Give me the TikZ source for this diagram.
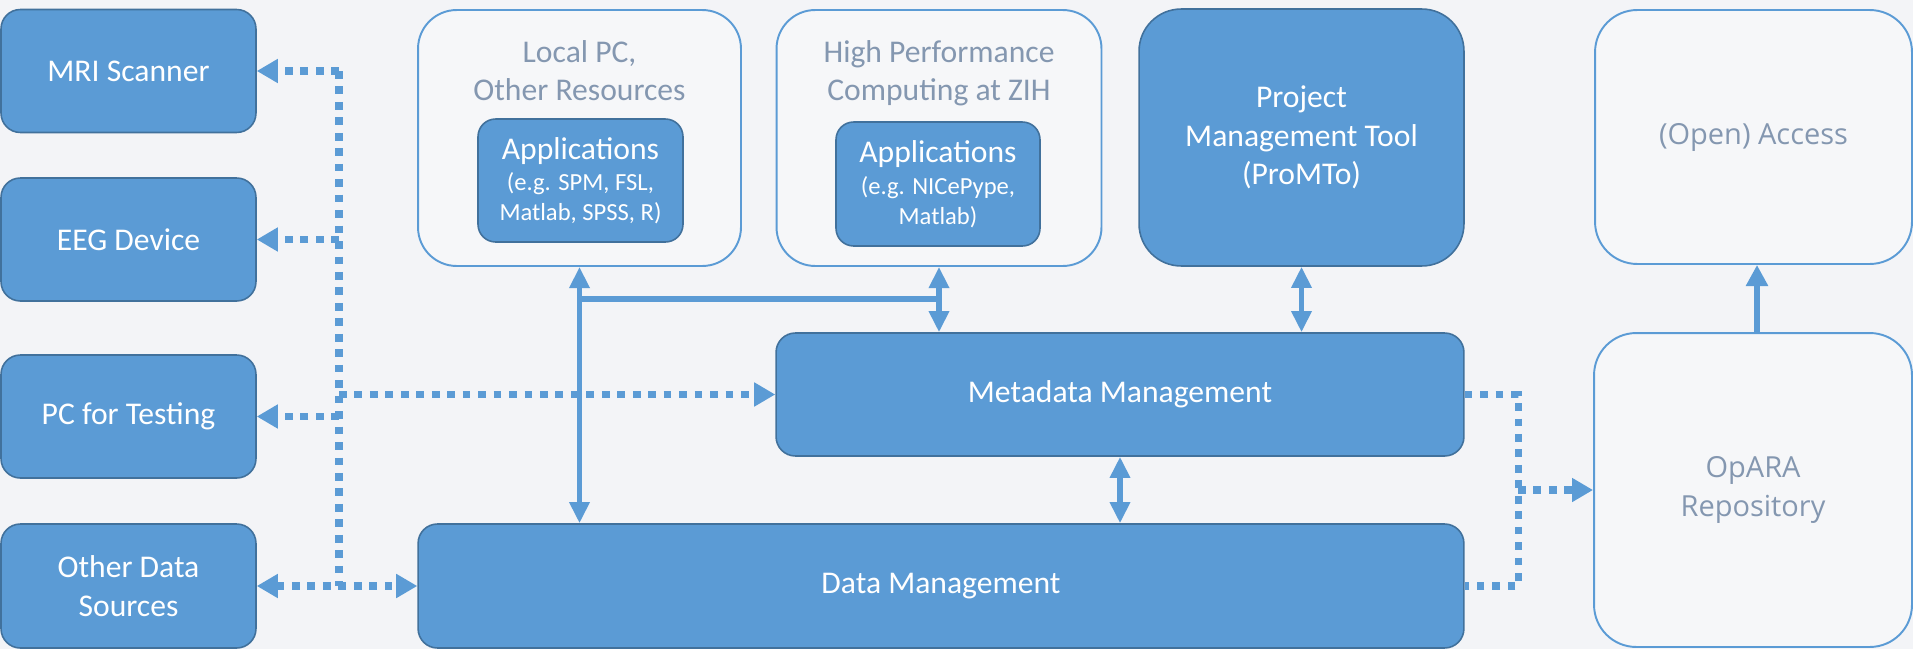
\documentclass[tikz,border=0pt]{standalone}
\usepackage{fontspec}
\setmainfont{Carlito}
\newfontfamily\repofont{Open Sans}
\usetikzlibrary{
    positioning,
    calc,
    arrows.meta
}
\definecolor{BlueFill}{HTML}{5B9BD5}
\definecolor{BlueEdge}{HTML}{41719C}
\definecolor{BlueLine}{HTML}{5B9BD5}
\definecolor{GrayText}{HTML}{8497B0}
\definecolor{Paper}{HTML}{F3F4F7}
\definecolor{BoxPaper}{HTML}{F6F7F9}
\newcommand{\appbig}{\fontsize{18}{22}\selectfont}

\begin{document}
\begin{tikzpicture}[
                x=0.02cm, y=-0.02cm,
                every node/.style={align=center},
                bluebox/.style={
                    fill=BlueFill, draw=BlueEdge, line width=0.9pt,
                    text=white, rounded corners=11pt,
                    font=\fontsize{18}{22}\selectfont
                },
                appbox/.style={
                    bluebox, rounded corners=10pt,
                    font=\fontsize{14}{17}\selectfont
                },
                framebox/.style={
                    fill=BoxPaper, draw=BlueLine, line width=1.1pt,
                    rounded corners=22pt
                },
                titletext/.style={
                    text=GrayText, inner sep=0pt,
                    font=\fontsize{18}{21.5}\selectfont
                },
                dotline/.style={BlueLine, line width=4pt, dash pattern=on 4.4pt off 4.4pt},
                dotarrow/.style={dotline, -{Triangle[length=12pt, width=13pt]}},
                link/.style={BlueLine, line width=3pt},
                twoway/.style={link, {Triangle[length=12pt, width=11pt]}-{Triangle[length=12pt, width=11pt]}}
            ]

                \fill[Paper] (0,0) rectangle (1913,649);
                \useasboundingbox (0,0) rectangle (1913,649);

                % devices on the left
                \node[bluebox, minimum width=5.1cm, minimum height=2.46cm] (mri) at (128.5,71) {MRI Scanner};
                \node[bluebox, minimum width=5.1cm, minimum height=2.46cm] (eeg) at (128.5,239.5) {EEG Device};
                \node[bluebox, minimum width=5.1cm, minimum height=2.46cm] (pctesting) at (128.5,416.5) {PC for Testing};
                \node[bluebox, minimum width=5.1cm, minimum height=2.48cm] (otherdata) at (128.5,586) {Other Data\\Sources};

                % computing resources
                \node[framebox, minimum width=6.46cm, minimum height=5.12cm] (localpc) at (579.5,138) {};
                \node[titletext, below=0.62cm of localpc.north] (localpctitle) {Local PC,\\Other Resources};
                \node[
                    appbox,
                    minimum width=4.1cm,
                    minimum height=2.46cm
                ] (applocal) at (580.5,180.5) {
                    {\appbig Applications}\\[1pt]
                    (e.g. SPM, FSL,\\
                    Matlab, SPSS, R)
                };

                \node[framebox, minimum width=6.5cm, minimum height=5.12cm] (hpc) at (939,138) {};
                \node[titletext, below=0.62cm of hpc.north] (hpctitle) {High Performance\\Computing at ZIH};
                \node[
                    appbox,
                    minimum width=4.08cm,
                    minimum height=2.48cm
                ] (apphpc) at (938,184) {
                    {\appbig Applications}\\[1pt]
                    (e.g. NICePype,\\
                    Matlab)
                };

                \node[
                    bluebox,
                    rounded corners=24pt,
                    minimum width=6.5cm,
                    minimum height=5.14cm
                ] (promto) at (1301.5,137.5) {
                    Project\\
                    Management Tool\\
                    (ProMTo)
                };

                % management layer
                \node[bluebox, minimum width=13.76cm, minimum height=2.46cm] (metadata) at (1120,394.5) {Metadata Management};
                \node[bluebox, minimum width=20.92cm, minimum height=2.48cm] (datamgmt) at (941,586) {Data Management};

                % repository and access
                \node[
                    framebox,
                    rounded corners=24pt,
                    minimum width=6.36cm,
                    minimum height=6.28cm,
                    text=GrayText,
                    font=\repofont\fontsize{16.5}{22}\selectfont
                ] (opara) at (1753,490) {
                    OpARA\\
                    Repository
                };
                \node[
                    framebox,
                    rounded corners=24pt,
                    minimum width=6.34cm,
                    minimum height=5.08cm,
                    text=GrayText,
                    font=\repofont\fontsize{16.5}{22}\selectfont
                ] (access) at (1753.5,137) {(Open) Access};

                % dotted links to the devices
                \coordinate (leftbus) at (339,71);
                \coordinate (leftbusend) at (339,586);
                \draw[dotline] (leftbus) -- (leftbusend);
                \draw[dotarrow] (leftbus) -- (mri);
                \draw[dotarrow] (leftbus |- eeg) -- (eeg);
                \draw[dotarrow] (leftbus |- pctesting) -- (pctesting);
                \draw[dotarrow] (leftbus |- metadata) -- (metadata);
                \draw[dotline, {Triangle[length=12pt, width=13pt]}-{Triangle[length=12pt, width=13pt]}]
                    (otherdata) -- (datamgmt);

                % solid links
                \coordinate (junction) at (580,299);
                \draw[twoway] (localpc.south) -- (localpc.south |- datamgmt.north);
                \draw[link] (junction) -- (junction -| hpc.south);
                \draw[twoway] (hpc.south) -- (hpc.south |- metadata.north);
                \draw[twoway] (promto.south) -- (promto.south |- metadata.north);
                \draw[twoway] (metadata.south) -- (metadata.south |- datamgmt.north);

                % to the repository
                \coordinate (rightbus) at (1518,490);
                \draw[dotline] (metadata) -| (rightbus) |- (datamgmt);
                \draw[dotarrow] (rightbus) -- (opara);
                \draw[link, -{Triangle[length=12pt, width=12pt]}] (opara.north -| 1757,0) -- (access.south -| 1757,0);

            \end{tikzpicture}
\end{document}
